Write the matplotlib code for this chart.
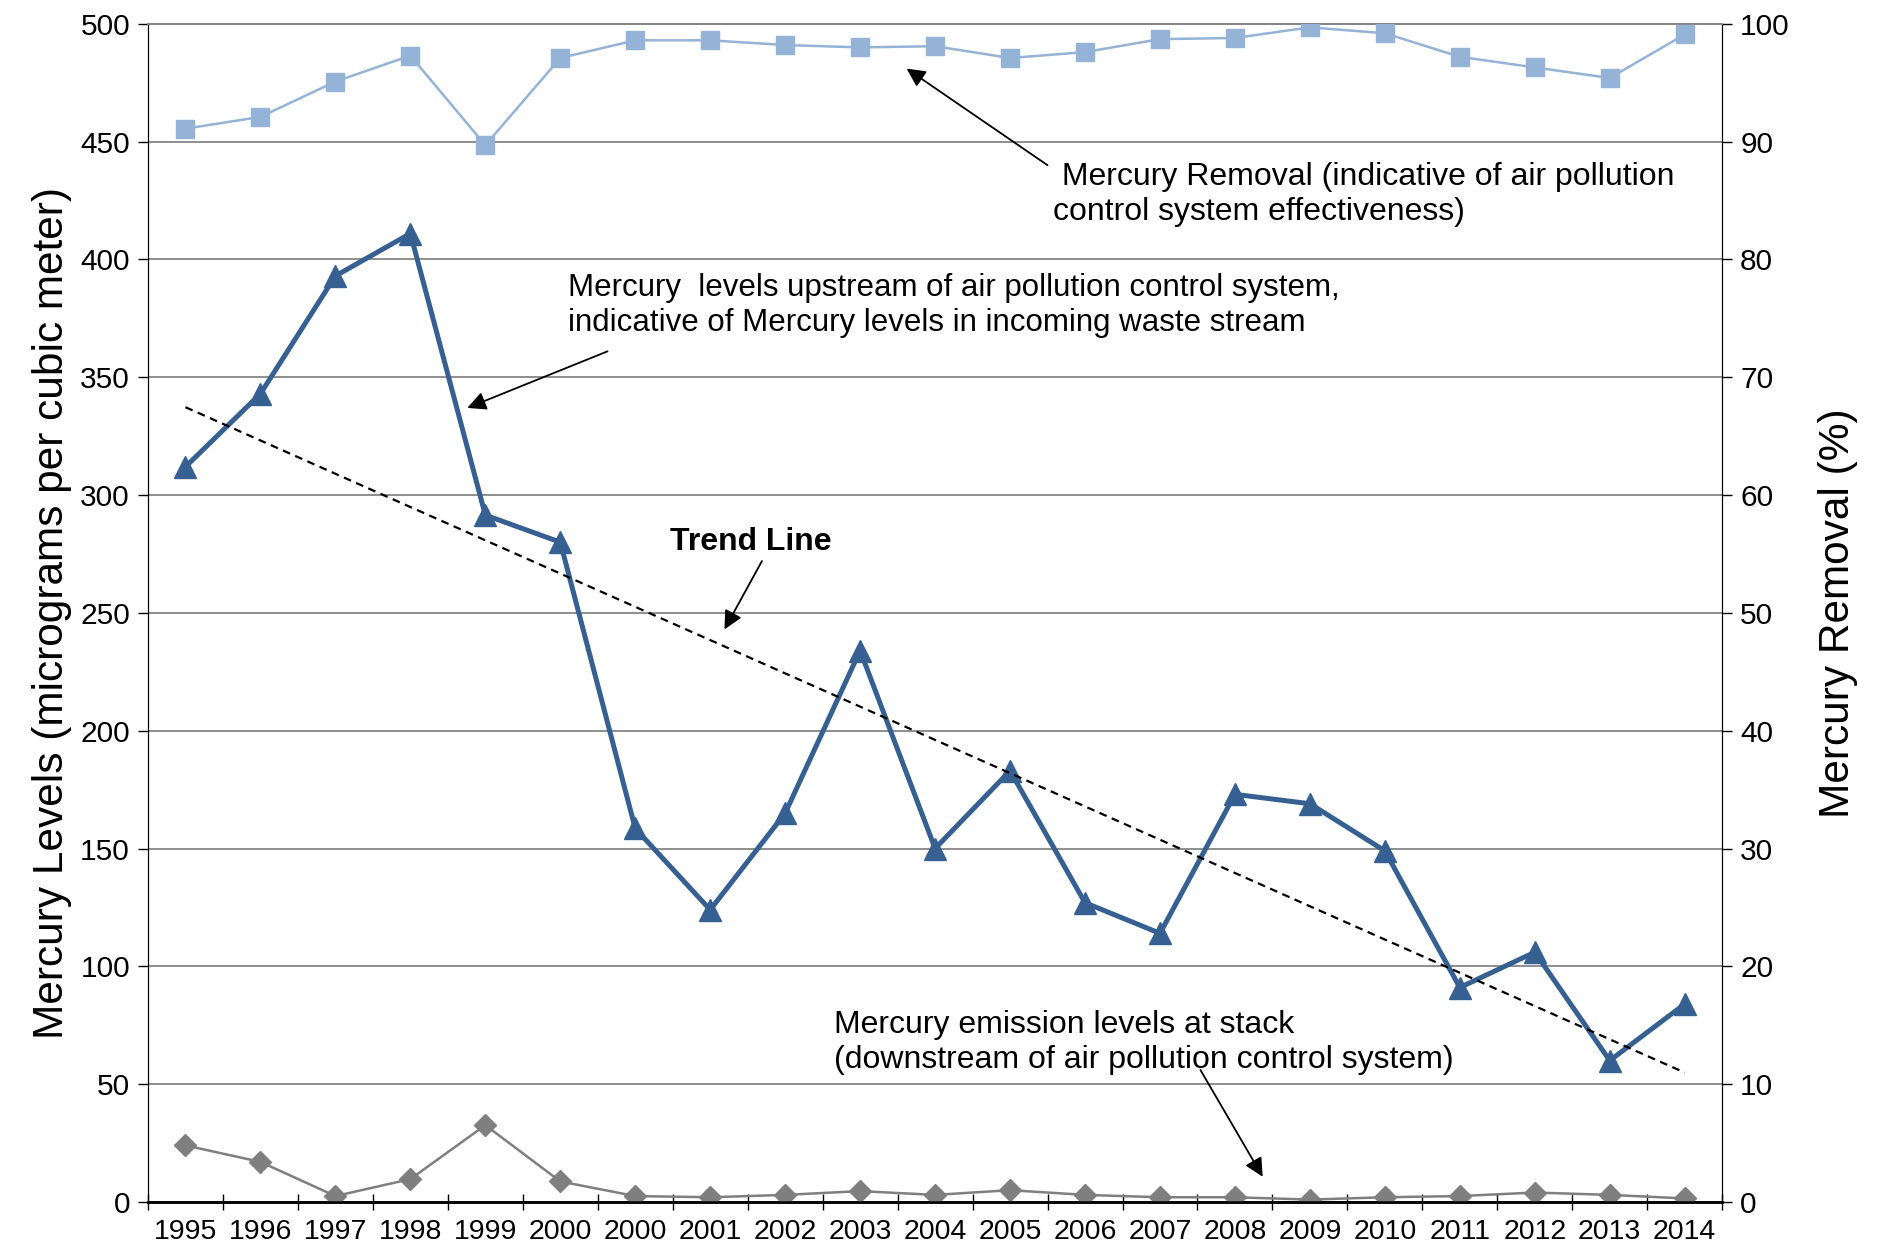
import numpy as np
import matplotlib.pyplot as plt
from matplotlib.ticker import MultipleLocator

plt.rcParams["font.family"] = ["Liberation Sans", "DejaVu Sans"]

# data
years = ["1995", "1996", "1997", "1998", "1999", "2000", "2000", "2001", "2002", "2003", "2004",
         "2005", "2006", "2007", "2008", "2009", "2010", "2011", "2012", "2013", "2014"]
upstream = [312, 343, 393, 411, 291.5, 280, 158.5, 124, 165, 234, 150,
            183, 127, 114, 173, 169, 149, 91, 106, 60, 84]
stack = [24, 17, 2.5, 9.7, 32.6, 8.7, 2.5, 2, 3, 4.6, 3,
         5, 3, 2, 2, 1, 2, 2.5, 4, 3, 1.5]
removal = [91.1, 92.1, 95.1, 97.3, 89.7, 97.1, 98.6, 98.6, 98.2, 98.0, 98.1,
           97.1, 97.6, 98.7, 98.8, 99.7, 99.2, 97.2, 96.3, 95.4, 99.1]

x = np.arange(len(years))

fig = plt.figure(figsize=(18.83, 12.54), dpi=100)
ax = fig.add_axes([0.0786, 0.0415, 0.836, 0.9395])
ax2 = ax.twinx()

# left axis series
ax.plot(x, upstream, color="#376092", lw=3.6, marker="^", ms=15.5, zorder=4)
ax.plot(x, stack, color="#7F7F7F", lw=1.8, marker="D", ms=11.5, zorder=4)

# linear trend of upstream levels
k, b = np.polyfit(x, upstream, 1)
ax.plot(x[[0, -1]], k * x[[0, -1]] + b, color="black", lw=1.6, ls=(0, (3.5, 2.5)), zorder=5)

# right axis series
ax2.plot(x, removal, color="#95B3D7", lw=1.8, marker="s", ms=12.5, zorder=4)

ax.set_xlim(-0.5, len(years) - 0.5)
ax.set_ylim(0, 500)
ax2.set_ylim(0, 100)
ax.yaxis.set_major_locator(MultipleLocator(50))
ax2.yaxis.set_major_locator(MultipleLocator(10))
ax.grid(axis="y", color="#868686", lw=1.3)
ax.set_axisbelow(True)

ax.set_xticks(x)
ax.set_xticklabels(years)
ax.set_xticks(np.arange(-0.5, len(years)), minor=True)
ax.tick_params(axis="x", which="major", length=0, labelsize=20.5, pad=12)
ax.tick_params(axis="x", which="minor", direction="inout", length=12, width=1)
ax.tick_params(axis="y", labelsize=21.5, length=7, width=1, pad=6)
ax2.tick_params(axis="y", labelsize=21.5, length=7, width=1, pad=6)

for a in (ax, ax2):
    a.spines["top"].set_color("#868686")
    a.spines["top"].set_linewidth(1.3)
    a.spines["left"].set_color("black")
    a.spines["right"].set_color("black")
    a.spines["bottom"].set_linewidth(1.8)

ax.set_ylabel("Mercury Levels (micrograms per cubic meter)", fontsize=30.5, labelpad=6)
ax2.set_ylabel("Mercury Removal (%)", fontsize=30.5, labelpad=20)

arrow = dict(arrowstyle="-|>", color="black", lw=1.3, mutation_scale=28, shrinkA=0, shrinkB=0)

ax.text(11.57, 427.6, " Mercury Removal (indicative of air pollution\ncontrol system effectiveness)",
        fontsize=23, va="center", ha="left", linespacing=1.22)
ax.annotate("", xy=(9.62, 481), xytext=(11.5, 440), arrowprops=arrow)

ax.text(5.1, 380.5, "Mercury  levels upstream of air pollution control system,\n"
        "indicative of Mercury levels in incoming waste stream",
        fontsize=22.5, va="center", ha="left", linespacing=1.22)
ax.annotate("", xy=(3.76, 337), xytext=(5.63, 361), arrowprops=arrow)

ax.text(7.54, 280, "Trend Line", fontsize=23, fontweight="bold", ha="center", va="center")
ax.annotate("", xy=(7.19, 243), xytext=(7.69, 272), arrowprops=arrow)

ax.text(8.65, 67.8, "Mercury emission levels at stack\n(downstream of air pollution control system)",
        fontsize=23, va="center", ha="left", linespacing=1.22)
ax.annotate("", xy=(14.37, 10.7), xytext=(13.54, 56), arrowprops=arrow)

fig.savefig("out.png", dpi=100)
